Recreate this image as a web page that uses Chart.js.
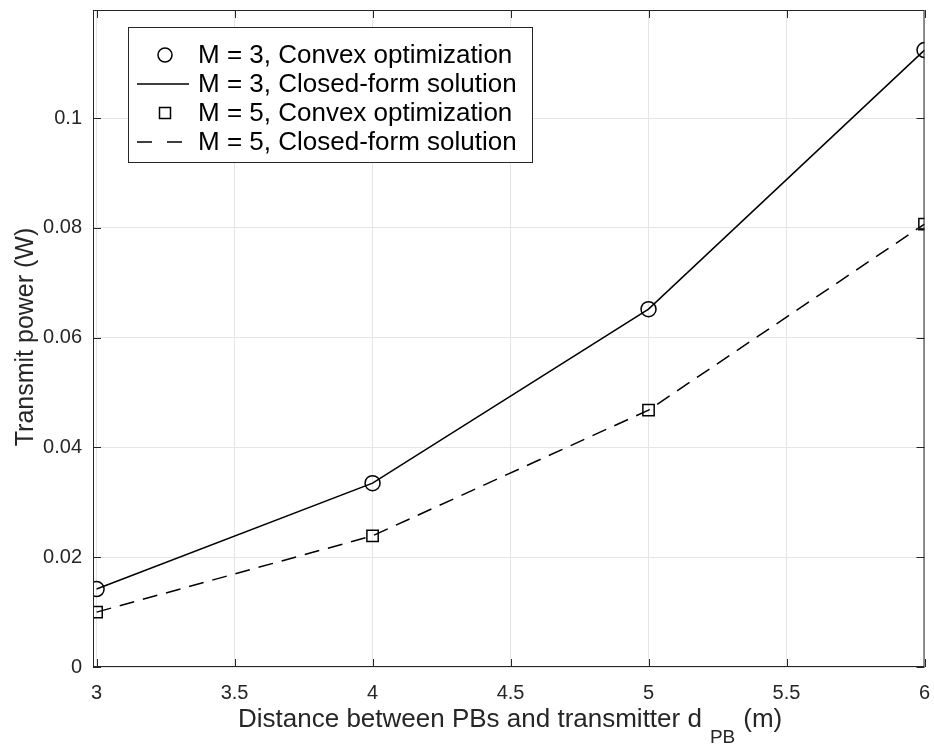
<!DOCTYPE html>
<html>
<head>
<meta charset="utf-8">
<script src="https://cdn.jsdelivr.net/npm/chart.js@4.4.1/dist/chart.umd.min.js"></script>
<style>
  html, body { margin: 0; padding: 0; background: #fff; }
  #wrap { width: 934px; height: 745px; }
</style>
</head>
<body>
<div id="wrap"><canvas id="grafico"></canvas></div>
<script>
// datos
const distancias = [3, 4, 5, 6];
const potenciaM3Convexa = [0.0142, 0.0335, 0.0652, 0.1124];
const potenciaM3Cerrada = [0.0142, 0.0335, 0.0652, 0.1124];
const potenciaM5Convexa = [0.0100, 0.0239, 0.0468, 0.0807];
const potenciaM5Cerrada = [0.0100, 0.0239, 0.0468, 0.0807];
const ticksX = [3, 3.5, 4, 4.5, 5, 5.5, 6];
const ticksY = [0, 0.02, 0.04, 0.06, 0.08, 0.1];
const etiquetas = [
  'M = 3, Convex optimization',
  'M = 3, Closed-form solution',
  'M = 5, Convex optimization',
  'M = 5, Closed-form solution'
];

const FUENTE = '"Liberation Sans", Arial, Helvetica, sans-serif';
const EJE = '#262626';

const puntos = (ys) => distancias.map((x, i) => ({ x: x, y: ys[i] }));

// caja, marcas hacia dentro, titulos y leyenda al estilo MATLAB
const estiloMatlab = {
  id: 'estiloMatlab',
  afterDraw(chart) {
    const { ctx, chartArea: a, scales } = chart;
    const sx = scales.x, sy = scales.y;
    ctx.save();
    ctx.strokeStyle = EJE;
    ctx.lineWidth = 1;
    ctx.strokeRect(a.left + 0.5, a.top + 0.5, a.right - a.left - 1, a.bottom - a.top - 1);
    ctx.beginPath();
    ticksX.forEach(v => {
      const px = Math.round(sx.getPixelForValue(v)) + 0.5;
      ctx.moveTo(px, a.bottom); ctx.lineTo(px, a.bottom - 8);
      ctx.moveTo(px, a.top); ctx.lineTo(px, a.top + 8);
    });
    ticksY.forEach(v => {
      const py = Math.round(sy.getPixelForValue(v)) + 0.5;
      ctx.moveTo(a.left, py); ctx.lineTo(a.left + 8, py);
      ctx.moveTo(a.right, py); ctx.lineTo(a.right - 8, py);
    });
    ctx.stroke();

    // titulo eje x con subindice
    ctx.fillStyle = EJE;
    ctx.textBaseline = 'alphabetic';
    ctx.textAlign = 'left';
    ctx.font = '26px ' + FUENTE;
    const texto = 'Distance between PBs and transmitter d';
    ctx.fillText(texto, 238, 727);
    const xs = 238 + ctx.measureText(texto).width + 8;
    ctx.font = '19px ' + FUENTE;
    ctx.fillText('PB', xs, 743);
    const xm = xs + ctx.measureText('PB').width + 8;
    ctx.font = '26px ' + FUENTE;
    ctx.fillText('(m)', xm, 727);

    // titulo eje y
    ctx.save();
    ctx.translate(33, 337);
    ctx.rotate(-Math.PI / 2);
    ctx.textAlign = 'center';
    ctx.font = '25px ' + FUENTE;
    ctx.fillText('Transmit power (W)', 0, 0);
    ctx.restore();

    // leyenda
    const lx = 128, ly = 27, lw = 404, lh = 135;
    ctx.fillStyle = '#fff';
    ctx.fillRect(lx, ly, lw, lh);
    ctx.strokeStyle = EJE;
    ctx.lineWidth = 1;
    ctx.strokeRect(lx + 0.5, ly + 0.5, lw, lh);
    const filas = [55, 84, 113, 142];
    chart.data.datasets.forEach((ds, i) => {
      const cy = filas[i];
      ctx.strokeStyle = '#000';
      ctx.lineWidth = 1.5;
      if (ds.showLine === false) {
        ctx.beginPath();
        if (ds.pointStyle === 'circle') {
          ctx.arc(165, cy, 7, 0, Math.PI * 2);
        } else {
          ctx.rect(159.5, cy - 5.5, 11, 11);
        }
        ctx.stroke();
      } else {
        ctx.setLineDash(ds.borderDash ? [15, 15] : []);
        ctx.beginPath();
        ctx.moveTo(137, cy); ctx.lineTo(ds.borderDash ? 183 : 189, cy);
        ctx.stroke();
        ctx.setLineDash([]);
      }
      ctx.fillStyle = '#000';
      ctx.textAlign = 'left';
      ctx.textBaseline = 'middle';
      ctx.font = '26px ' + FUENTE;
      ctx.fillText(etiquetas[i], 198, cy + 1);
    });
    ctx.restore();
  }
};

new Chart(document.getElementById('grafico'), {
  type: 'scatter',
  data: {
    datasets: [
      {
        label: etiquetas[0], data: puntos(potenciaM3Convexa), showLine: false,
        pointStyle: 'circle', pointRadius: 7.5, borderColor: '#000', borderWidth: 1.5,
        backgroundColor: 'rgba(0,0,0,0)'
      },
      {
        label: etiquetas[1], data: puntos(potenciaM3Cerrada), showLine: true,
        pointRadius: 0, borderColor: '#000', borderWidth: 1.5
      },
      {
        label: etiquetas[2], data: puntos(potenciaM5Convexa), showLine: false,
        pointStyle: 'rect', pointRadius: 8, borderColor: '#000', borderWidth: 1.5,
        backgroundColor: 'rgba(0,0,0,0)'
      },
      {
        label: etiquetas[3], data: puntos(potenciaM5Cerrada), showLine: true,
        pointRadius: 0, borderColor: '#000', borderWidth: 1.5, borderDash: [15, 9]
      }
    ]
  },
  options: {
    responsive: true,
    maintainAspectRatio: false,
    animation: false,
    layout: { padding: { top: 10, right: 7, left: 0, bottom: 0 } },
    plugins: { legend: { display: false }, tooltip: { enabled: false } },
    scales: {
      x: {
        type: 'linear', min: 2.987, max: 6,
        afterBuildTicks: s => { s.ticks = ticksX.map(v => ({ value: v })); },
        afterFit: s => { s.height = 78; s.paddingLeft = 0; s.paddingRight = 0; },
        grid: { color: '#e5e5e5', drawTicks: false },
        border: { display: false },
        ticks: { color: EJE, padding: 14, font: { family: FUENTE, size: 20 }, maxRotation: 0,
                 callback: v => String(v) }
      },
      y: {
        type: 'linear', min: 0, max: 0.1197,
        afterBuildTicks: s => { s.ticks = ticksY.map(v => ({ value: v })); },
        afterFit: s => { s.width = 93; s.paddingTop = 0; s.paddingBottom = 0; },
        grid: { color: '#e5e5e5', drawTicks: false },
        border: { display: false },
        ticks: { color: EJE, padding: 11, font: { family: FUENTE, size: 20 },
                 callback: v => String(+v.toFixed(2)) }
      }
    }
  },
  plugins: [estiloMatlab]
});
</script>
</body>
</html>
